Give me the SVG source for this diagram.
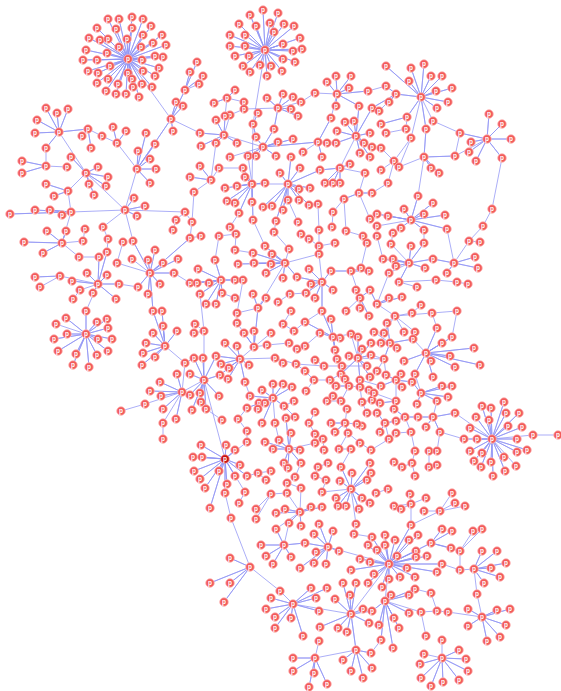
<svg xmlns="http://www.w3.org/2000/svg" width="561" height="691" viewBox="0 0 561 691">
<style>
.e{fill:none;stroke:#9094f4;stroke-width:0.9;stroke-opacity:0.85;stroke-linejoin:round}
#nodes circle{r:4.3px;fill:#f25a5a;stroke:#fdb8b8;stroke-width:0.8}
#nodes text{font-family:"Liberation Sans",Arial,sans-serif;font-size:6.5px;font-weight:bold;fill:#fff;text-anchor:middle}
#nodes .dk circle{fill:#c81010;stroke:#f4a0a0}
</style>
<rect width="561" height="691" fill="#fff"/>
<g id="connectors">
<path class="e" d="M128 59L108 19 128 59 119 19 128 59 132 17 128 59 143 19 128 59 97 28 128 59 116 29 128 59 132 28 128 59 151 26 128 59 89 38 128 59 100 40 128 59 108 39 128 59 127 39 128 59 143 35 128 59 162 35 128 59 86 50 128 59 107 53 128 59 119 47 128 59 141 47 128 59 153 43 128 59 166 45 128 59 83 60 128 59 97 60 128 59 142 60 128 59 155 56 128 59 163 57 128 59 88 71 128 59 98 73 128 59 110 66 128 59 128 73 128 59 143 71 128 59 159 68 128 59 97 83 128 59 108 79 128 59 118 84 128 59 132 79 128 59 142 84 128 59 155 76 128 59 106 91 128 59 116 94 128 59 126 94 128 59 133 87 128 59 139 97 128 59 152 87 128 59 171 119"/>
<path class="e" d="M265 50L263 10 265 50 250 15 265 50 278 13 265 50 239 24 265 50 256 26 265 50 270 23 265 50 274 32 265 50 284 24 265 50 294 26 265 50 230 35 265 50 245 35 265 50 300 38 265 50 283 44 265 50 230 46 265 50 245 46 265 50 293 51 265 50 302 49 265 50 235 56 265 50 249 56 265 50 283 59 265 50 295 62 265 50 243 66 265 50 260 65 265 50 271 66 265 50 250 72 265 50 267 76 265 50 282 71 265 50 253 124"/>
<path class="e" d="M171 119L185 90 171 119 176 102 171 119 183 106 171 119 173 131 171 119 137 169 171 119 200 133M185 90L197 62 185 90 190 72 185 90 203 76 185 90 199 84M59 132L46 108 59 132 57 113 59 132 68 109 59 132 37 120 59 132 35 133 59 132 88 129 59 132 46 148 59 132 86 173M46 148L46 166 22 161 46 166 22 173 46 166 67 167M88 129L82 136 88 129 91 148 88 129 102 136 117 143 113 127 117 143 126 131 117 143 137 169M137 169L138 151 137 169 146 133 137 169 155 144 137 169 150 159 137 169 156 169 137 169 150 183 137 169 125 210M86 173L71 157 86 173 98 167 86 173 108 177 86 173 106 186 86 173 89 184 86 173 94 195 86 173 68 191 46 184 68 191 54 196 68 191 71 212M86 173L125 210M125 210L134 198 125 210 145 206 125 210 137 216 125 210 71 212M125 210L185 212 176 220 173 230M185 212L192 222 190 238M125 210L133 241M125 210L103 227 108 239 107 252M71 212L35 210 71 212 50 210 71 212 10 214 71 212 62 215 71 212 62 243 47 231 62 243 66 231 62 243 24 242 62 243 43 253 62 243 83 241 85 229M62 243L79 257 99 257"/>
<path class="e" d="M98 284L99 257 98 284 107 252 98 284 87 273 98 284 72 281 98 284 107 275 98 284 119 284 98 284 80 290 73 299M98 284L93 293 98 284 116 299 98 284 60 276 35 277 60 276 40 287M98 284L86 311M86 334L86 311 86 334 97 322 86 334 107 319 86 334 108 328 86 334 67 334 86 334 54 339 86 334 98 339 86 334 112 339 86 334 58 351 86 334 76 354 86 334 97 355 86 334 108 351 86 334 73 365 86 334 89 367 86 334 66 318 86 334 56 324M150 273L155 250 150 273 148 260 150 273 163 263 150 273 174 273 150 273 160 284 150 273 138 287 150 273 148 294 150 273 133 241 150 273 117 263 123 242M150 273L178 259 150 273 153 311 150 273 190 238 150 273 132 259M165 346L153 311 165 346 162 311 165 346 163 326 165 346 177 331 165 346 153 333 165 346 146 343 165 346 143 353 165 346 155 357 165 346 142 365 165 346 185 363 182 392M182 392L177 374 182 392 160 382 182 392 150 391 182 392 161 396 182 392 145 404 121 411M182 392L163 409 182 392 176 419 182 392 163 423 163 439M182 392L204 380M119 284L138 287M174 273L190 283M185 363L194 358"/>
<path class="e" d="M253 124L258 113 253 124 256 137 253 124 252 184M227 98L235 90 227 98 214 103 227 98 244 102 244 109 230 115M227 98L225 116M278 108L267 98 278 108 283 94 278 108 293 97 278 108 291 109 278 108 301 102 315 93 337 94M278 108L298 116 278 108 274 129 278 108 244 109M224 135L216 120 224 135 225 116 224 135 200 133 224 135 216 143 224 135 201 146 224 135 237 143 224 135 263 147M224 135L230 115M263 147L256 137 263 147 278 142 263 147 293 139 263 147 318 142 263 147 248 156 263 147 256 156 263 147 276 156 263 147 274 129 263 147 230 157M318 142L327 143 318 142 336 143 318 142 331 118 318 142 322 157 318 142 303 152M337 94L327 82 337 94 336 76 337 94 351 76 337 94 349 88 337 94 368 91 337 94 336 106 337 94 359 106 337 94 331 118M356 136L345 122 356 136 354 121 356 136 337 131 356 136 370 133 356 136 364 143 356 136 372 147 356 136 360 153 356 136 370 157 356 136 359 106 356 136 372 108 356 136 336 143 356 136 340 168M340 168L350 164 340 168 325 183 340 168 333 183 340 168 340 183 340 168 320 170 340 168 365 173 359 193 372 193 359 193 344 199 359 193 370 219"/>
<path class="e" d="M288 184L280 173 288 184 300 168 288 184 291 157 288 184 299 189 288 184 310 188 288 184 288 200 288 184 299 200 288 184 309 205 288 184 283 210 288 184 272 206 288 184 263 207 288 184 276 221 288 184 320 170 288 184 252 184M288 200L298 222M252 184L243 168 252 184 245 177 252 184 265 183 252 184 237 186 252 184 225 188 252 184 252 202 252 184 235 203 252 184 227 201 252 184 239 213 252 184 253 220 252 184 248 156M211 180L200 166 211 180 219 168 243 168M211 180L190 177 211 180 194 192 192 222M211 180L216 143M230 227L239 213M318 204L309 205M333 212L344 199M332 227L333 212M319 230L318 204M346 231L344 199M276 221L274 232M253 220L265 246M368 91L386 86"/>
<path class="e" d="M421 97L386 66 421 97 411 68 421 97 424 64 421 97 431 76 421 97 442 76 421 97 409 81 421 97 436 91 421 97 452 88 421 97 448 102 421 97 437 108 421 97 433 121 460 133M421 97L396 94 421 97 407 117 421 97 426 129 421 97 411 138M396 94L386 86 396 94 389 102 396 94 372 108 396 94 379 111M407 117L381 124 407 117 406 129 386 133M424 157L426 129 424 157 431 168 424 157 439 173 424 157 455 156 424 157 399 167 411 138 394 161 381 148M394 161L381 170M394 161L388 183 372 193M487 139L460 133 487 139 471 142 487 139 469 152 487 139 476 161 487 139 489 114 487 139 502 124 487 139 511 139 487 139 502 158 487 139 455 156 460 133M411 220L418 196 411 220 404 209 411 220 424 214 411 220 433 203 411 220 445 215 411 220 388 216 411 220 377 214 411 220 401 228 411 220 424 230 411 220 447 229 411 220 377 226M418 196L424 157M502 158L492 209 483 226 469 241M424 230L424 243M447 229L454 263"/>
<path class="e" d="M221 280L215 260 221 280 198 269 221 280 190 283 221 280 197 283 221 280 209 283 221 280 200 294 221 280 222 293 221 280 206 304 221 280 216 304 221 280 235 280 221 280 243 280M190 238L201 236M219 236L236 234 235 250 253 253M235 298L222 293M215 260L219 236M200 294L204 331M285 263L265 246 285 263 253 253 285 263 272 254 285 263 289 249 274 232M285 263L254 263 285 263 271 264 285 263 266 273 285 263 283 278 285 263 297 277 285 263 238 264 285 263 319 254M285 263L258 308M322 282L309 269 322 282 311 284 322 282 306 293 322 282 315 298 322 282 333 290 322 282 331 271 322 282 297 277 322 282 322 311 322 282 319 254 319 246 319 230M319 246L309 239 301 234M319 246L335 243M351 271L331 271 351 271 361 268 367 243M351 271L369 271 351 271 360 298 356 290 360 298 370 290 360 298 360 308 360 298 369 316 360 298 346 311M346 231L363 236M258 308L253 294 258 308 266 298 258 308 254 347 258 308 237 313 237 323M237 313L243 280M278 302L290 294 306 293M291 311L283 324 294 331 305 322 322 311M271 333L254 347"/>
<path class="e" d="M254 347L244 333 254 347 254 331 254 347 267 345 289 343 297 349 305 346 320 333M254 347L237 323M254 347L240 359M240 359L225 343 240 359 237 346 240 359 221 364 240 359 229 368 240 359 228 379 240 359 220 375 240 359 249 365 240 359 245 382 240 359 216 356 240 359 275 358 296 364 324 366 342 366 367 366M283 363L275 358M315 360L324 366M305 371L296 364M204 380L194 358 204 380 203 358 204 380 216 356 204 380 190 374 204 380 220 375 204 380 190 395 204 380 200 393 204 380 219 396 204 380 192 410 204 380 201 402 204 380 206 409 204 380 204 331 195 324M204 331L194 333M204 380L225 459M273 398L262 390 273 398 273 384 273 398 283 384 273 398 292 387 273 398 259 403 273 398 265 403 273 398 284 406 273 398 250 396 273 398 247 408 273 398 258 409 273 398 262 423 273 398 275 423 279 440M245 382L250 396M333 337L320 333 333 337 340 338 333 337 331 319 333 337 322 311 333 337 335 351 333 337 337 359 333 337 305 322 333 337 351 334M358 358L349 356 358 358 362 349 358 358 358 337 358 358 371 343 358 358 371 355 358 358 367 366 358 358 360 380 358 358 370 377 358 358 341 374 358 358 351 334M358 358L384 359M360 380L381 386"/>
<path class="e" d="M289 449L279 440 289 449 273 449 289 449 300 450 289 449 291 433 289 449 265 442 289 449 284 463 289 449 288 468 289 449 301 463 289 449 286 418 289 449 315 443M295 477L287 483M301 463L295 477M225 459L202 457 225 459 193 457 225 459 201 445 225 459 226 445 225 459 235 450 225 459 240 465 225 459 194 471 225 459 219 471 225 459 200 479 225 459 235 476 225 459 247 476 225 459 227 484 225 459 205 488 225 459 225 493 225 459 210 508 225 459 245 492 239 503M225 459L247 442 247 431 238 419M225 493L231 518 250 567M247 476L258 473 271 471M258 473L266 480M314 380L330 380 341 374M306 391L314 380 305 371M349 386L336 386 349 386 360 387 369 390M349 386L345 379M349 386L341 401 327 401M341 401L333 396M341 401L347 409M362 402L372 400M362 402L367 413M362 402L360 387M294 401L284 406 295 417 286 418M315 412L309 423 315 434 323 439 315 443M222 420L206 409M238 419L247 408M345 423L331 423 345 423 357 424 362 426M345 423L348 433 345 423 335 432 345 423 347 409M323 439L324 450M339 449L351 449M339 449L348 433 360 443 371 450 389 439M351 449L341 467"/>
<path class="e" d="M409 263L383 259 409 263 393 259 409 263 396 266 409 263 391 244 393 233M409 263L411 246 409 263 433 259 409 263 425 268 409 263 399 282 409 263 424 243 409 263 389 273 377 304M377 236L383 259M454 263L433 259 454 263 475 257 454 263 478 268 454 263 447 273 454 263 469 241 480 242M399 282L436 280 457 282 468 284M417 287L399 282M377 304L370 290 377 304 389 298 377 304 402 297 377 304 395 316 412 313 421 305M395 316L432 313 457 311 452 337M432 313L437 328M395 316L387 323M395 316L384 332M395 316L404 332M395 316L415 332M426 353L437 328 426 353 442 343 426 353 452 337 426 353 474 348 426 353 450 356 426 353 455 367 426 353 480 365 426 353 431 361 426 353 404 361 426 353 433 377 426 353 415 374 426 353 413 339M390 343L387 323 390 343 381 343 390 343 397 348 390 343 384 359 390 343 413 339 390 343 374 332M384 359L377 371M384 359L386 375M384 359L371 355M396 380L381 386 396 380 386 375 396 380 401 374 396 380 412 382 396 380 402 387 396 380 396 401 380 403 396 401 394 409 396 401 374 393M421 393L412 382 421 393 442 386 421 393 452 386 421 393 448 397 421 393 437 401 421 393 417 404 421 393 415 374M405 417L394 409 405 417 418 417 405 417 396 421 405 417 411 432M433 417L418 417 433 417 455 413 433 417 426 427 433 417 440 432 433 417 437 401M455 413L492 439M440 432L464 439M385 423L377 413 385 423 396 421 385 423 380 432 385 423 389 439 396 433 411 432 415 451M429 451L437 451 440 432M394 462L402 467 412 463 415 451M412 463L415 476M429 467L437 465M429 467L429 451"/>
<path class="e" d="M492 439L482 406 492 439 491 408 492 439 504 402 492 439 476 417 492 439 489 420 492 439 506 413 492 439 519 413 492 439 470 428 492 439 508 426 492 439 522 427 492 439 464 439 492 439 477 439 492 439 517 439 492 439 533 435 558 435M492 439L470 451 492 439 482 453 492 439 504 457 492 439 517 452 492 439 527 450 492 439 474 461 492 439 481 467 492 439 491 462 492 439 493 476 492 439 505 471 492 439 516 466"/>
<path class="e" d="M389 564L385 535 389 564 395 540 389 564 409 540 389 564 418 535 389 564 385 545 389 564 377 550 389 564 397 556 389 564 416 557 389 564 427 556 389 564 416 551 389 564 407 568 389 564 415 577 389 564 400 577 389 564 389 579 389 564 382 587 389 564 374 574 389 564 442 564 389 564 431 543 389 564 411 525 389 564 437 572 389 564 372 537 389 564 370 562 389 564 360 559 389 564 368 545 389 564 368 583 389 564 351 570 389 564 385 601M411 525L411 504 410 494M411 504L394 506M411 504L401 509M411 504L426 498M411 525L440 511 452 493M440 511L455 503M440 511L465 506M440 511L424 511M376 493L388 489M431 543L442 529 431 543 452 531 431 543 451 548 431 543 460 551 473 531M460 551L482 529M460 551L460 570 442 564M460 570L474 569M474 569L482 551 474 569 497 551 474 569 506 563 474 569 491 568 474 569 500 577 474 569 484 583 474 569 477 594 482 617M482 617L468 609 482 617 497 610 482 617 510 609 482 617 506 625 482 617 500 637 482 617 487 641 482 617 468 626 482 617 448 612 437 611 421 612M431 593L437 611M415 589L431 593M385 601L391 595 385 601 409 595 385 601 415 589 385 601 409 613 385 601 394 618 385 601 399 628 385 601 372 611 385 601 379 625 385 601 381 640 385 601 393 648 385 601 421 612 426 636M442 640L442 658M371 653L381 640M442 658L459 650 442 658 466 659 442 658 468 671 442 658 459 680 442 658 443 682 442 658 431 686 442 658 421 678 442 658 420 664 442 658 424 654"/>
<path class="e" d="M351 489L341 467 351 489 352 473 351 489 340 481 351 489 367 480 351 489 371 473 351 489 370 463 351 489 362 498 351 489 370 503 351 489 359 509 351 489 346 506 351 489 338 506 351 489 336 498 351 489 322 492 326 480 315 476 318 467 328 463M351 489L356 524 354 534 372 537M300 512L285 509 300 512 276 513 300 512 289 523 300 512 301 526 300 512 311 507 300 512 322 507 300 512 287 493 271 494 256 509M271 494L256 519M300 512L301 488 287 483M300 512L276 529M284 545L261 545 284 545 266 556 284 545 273 564 284 545 291 557 284 545 305 543 284 545 276 529 284 545 289 523M328 547L319 524 328 547 333 531 328 547 314 534 328 547 339 551 328 547 316 552 328 547 314 563 328 547 326 564 328 547 300 568 328 547 305 543 328 547 389 564M250 567L230 558 250 567 210 583 250 567 230 583 250 567 224 602 250 567 280 591 293 604M293 604L271 598 293 604 266 609 293 604 275 617 293 604 275 628 293 604 291 618 293 604 303 636 293 604 311 588 293 604 327 588 293 604 316 598 293 604 319 611 293 604 351 614M351 614L343 583 351 614 356 583 351 614 335 599 351 614 350 595 351 614 363 609 351 614 372 611 351 614 369 623 351 614 338 628 351 614 347 632 351 614 320 627 351 614 356 650 351 614 389 564M356 650L371 653 356 650 372 668 356 650 363 678 356 650 351 671 356 650 343 660 356 650 315 658M315 658L293 658 315 658 293 671 315 658 314 673 315 658 327 684 315 658 309 687 315 658 319 641"/>
</g>
<g id="nodes">
<g id="n1"><circle cx="128" cy="59"/><text x="128" y="61">p</text></g>
<g id="n2"><circle cx="108" cy="19"/><text x="108" y="21">p</text></g>
<g id="n3"><circle cx="119" cy="19"/><text x="119" y="21">p</text></g>
<g id="n4"><circle cx="132" cy="17"/><text x="132" y="19">p</text></g>
<g id="n5"><circle cx="143" cy="19"/><text x="143" y="21">p</text></g>
<g id="n6"><circle cx="97" cy="28"/><text x="97" y="30">p</text></g>
<g id="n7"><circle cx="116" cy="29"/><text x="116" y="31">p</text></g>
<g id="n8"><circle cx="132" cy="28"/><text x="132" y="30">p</text></g>
<g id="n9"><circle cx="151" cy="26"/><text x="151" y="28">p</text></g>
<g id="n10"><circle cx="89" cy="38"/><text x="89" y="40">p</text></g>
<g id="n11"><circle cx="100" cy="40"/><text x="100" y="42">p</text></g>
<g id="n12"><circle cx="108" cy="39"/><text x="108" y="41">p</text></g>
<g id="n13"><circle cx="127" cy="39"/><text x="127" y="41">p</text></g>
<g id="n14"><circle cx="143" cy="35"/><text x="143" y="37">p</text></g>
<g id="n15"><circle cx="162" cy="35"/><text x="162" y="37">p</text></g>
<g id="n16"><circle cx="86" cy="50"/><text x="86" y="52">p</text></g>
<g id="n17"><circle cx="107" cy="53"/><text x="107" y="55">p</text></g>
<g id="n18"><circle cx="119" cy="47"/><text x="119" y="49">p</text></g>
<g id="n19"><circle cx="141" cy="47"/><text x="141" y="49">p</text></g>
<g id="n20"><circle cx="153" cy="43"/><text x="153" y="45">p</text></g>
<g id="n21"><circle cx="166" cy="45"/><text x="166" y="47">p</text></g>
<g id="n22"><circle cx="83" cy="60"/><text x="83" y="62">p</text></g>
<g id="n23"><circle cx="97" cy="60"/><text x="97" y="62">p</text></g>
<g id="n24"><circle cx="142" cy="60"/><text x="142" y="62">p</text></g>
<g id="n25"><circle cx="155" cy="56"/><text x="155" y="58">p</text></g>
<g id="n26"><circle cx="163" cy="57"/><text x="163" y="59">p</text></g>
<g id="n27"><circle cx="88" cy="71"/><text x="88" y="73">p</text></g>
<g id="n28"><circle cx="98" cy="73"/><text x="98" y="75">p</text></g>
<g id="n29"><circle cx="110" cy="66"/><text x="110" y="68">p</text></g>
<g id="n30"><circle cx="128" cy="73"/><text x="128" y="75">p</text></g>
<g id="n31"><circle cx="143" cy="71"/><text x="143" y="73">p</text></g>
<g id="n32"><circle cx="159" cy="68"/><text x="159" y="70">p</text></g>
<g id="n33"><circle cx="97" cy="83"/><text x="97" y="85">p</text></g>
<g id="n34"><circle cx="108" cy="79"/><text x="108" y="81">p</text></g>
<g id="n35"><circle cx="118" cy="84"/><text x="118" y="86">p</text></g>
<g id="n36"><circle cx="132" cy="79"/><text x="132" y="81">p</text></g>
<g id="n37"><circle cx="142" cy="84"/><text x="142" y="86">p</text></g>
<g id="n38"><circle cx="155" cy="76"/><text x="155" y="78">p</text></g>
<g id="n39"><circle cx="106" cy="91"/><text x="106" y="93">p</text></g>
<g id="n40"><circle cx="116" cy="94"/><text x="116" y="96">p</text></g>
<g id="n41"><circle cx="126" cy="94"/><text x="126" y="96">p</text></g>
<g id="n42"><circle cx="133" cy="87"/><text x="133" y="89">p</text></g>
<g id="n43"><circle cx="139" cy="97"/><text x="139" y="99">p</text></g>
<g id="n44"><circle cx="152" cy="87"/><text x="152" y="89">p</text></g>
<g id="n45"><circle cx="171" cy="119"/><text x="171" y="121">p</text></g>
<g id="n46"><circle cx="185" cy="90"/><text x="185" y="92">p</text></g>
<g id="n47"><circle cx="176" cy="102"/><text x="176" y="104">p</text></g>
<g id="n48"><circle cx="183" cy="106"/><text x="183" y="108">p</text></g>
<g id="n49"><circle cx="173" cy="131"/><text x="173" y="133">p</text></g>
<g id="n50"><circle cx="59" cy="132"/><text x="59" y="134">p</text></g>
<g id="n51"><circle cx="46" cy="108"/><text x="46" y="110">p</text></g>
<g id="n52"><circle cx="57" cy="113"/><text x="57" y="115">p</text></g>
<g id="n53"><circle cx="68" cy="109"/><text x="68" y="111">p</text></g>
<g id="n54"><circle cx="37" cy="120"/><text x="37" y="122">p</text></g>
<g id="n55"><circle cx="35" cy="133"/><text x="35" y="135">p</text></g>
<g id="n56"><circle cx="88" cy="129"/><text x="88" y="131">p</text></g>
<g id="n57"><circle cx="46" cy="148"/><text x="46" y="150">p</text></g>
<g id="n58"><circle cx="86" cy="173"/><text x="86" y="175">p</text></g>
<g id="n59"><circle cx="46" cy="166"/><text x="46" y="168">p</text></g>
<g id="n60"><circle cx="22" cy="161"/><text x="22" y="163">p</text></g>
<g id="n61"><circle cx="22" cy="173"/><text x="22" y="175">p</text></g>
<g id="n62"><circle cx="67" cy="167"/><text x="67" y="169">p</text></g>
<g id="n63"><circle cx="82" cy="136"/><text x="82" y="138">p</text></g>
<g id="n64"><circle cx="91" cy="148"/><text x="91" y="150">p</text></g>
<g id="n65"><circle cx="102" cy="136"/><text x="102" y="138">p</text></g>
<g id="n66"><circle cx="117" cy="143"/><text x="117" y="145">p</text></g>
<g id="n67"><circle cx="113" cy="127"/><text x="113" y="129">p</text></g>
<g id="n68"><circle cx="126" cy="131"/><text x="126" y="133">p</text></g>
<g id="n69"><circle cx="137" cy="169"/><text x="137" y="171">p</text></g>
<g id="n70"><circle cx="138" cy="151"/><text x="138" y="153">p</text></g>
<g id="n71"><circle cx="146" cy="133"/><text x="146" y="135">p</text></g>
<g id="n72"><circle cx="155" cy="144"/><text x="155" y="146">p</text></g>
<g id="n73"><circle cx="150" cy="159"/><text x="150" y="161">p</text></g>
<g id="n74"><circle cx="156" cy="169"/><text x="156" y="171">p</text></g>
<g id="n75"><circle cx="150" cy="183"/><text x="150" y="185">p</text></g>
<g id="n76"><circle cx="125" cy="210"/><text x="125" y="212">p</text></g>
<g id="n77"><circle cx="71" cy="157"/><text x="71" y="159">p</text></g>
<g id="n78"><circle cx="98" cy="167"/><text x="98" y="169">p</text></g>
<g id="n79"><circle cx="108" cy="177"/><text x="108" y="179">p</text></g>
<g id="n80"><circle cx="106" cy="186"/><text x="106" y="188">p</text></g>
<g id="n81"><circle cx="89" cy="184"/><text x="89" y="186">p</text></g>
<g id="n82"><circle cx="94" cy="195"/><text x="94" y="197">p</text></g>
<g id="n83"><circle cx="68" cy="191"/><text x="68" y="193">p</text></g>
<g id="n84"><circle cx="46" cy="184"/><text x="46" y="186">p</text></g>
<g id="n85"><circle cx="54" cy="196"/><text x="54" y="198">p</text></g>
<g id="n86"><circle cx="71" cy="212"/><text x="71" y="214">p</text></g>
<g id="n87"><circle cx="134" cy="198"/><text x="134" y="200">p</text></g>
<g id="n88"><circle cx="145" cy="206"/><text x="145" y="208">p</text></g>
<g id="n89"><circle cx="137" cy="216"/><text x="137" y="218">p</text></g>
<g id="n90"><circle cx="185" cy="212"/><text x="185" y="214">p</text></g>
<g id="n91"><circle cx="35" cy="210"/><text x="35" y="212">p</text></g>
<g id="n92"><circle cx="50" cy="210"/><text x="50" y="212">p</text></g>
<g id="n93"><circle cx="10" cy="214"/><text x="10" y="216">p</text></g>
<g id="n94"><circle cx="62" cy="215"/><text x="62" y="217">p</text></g>
<g id="n95"><circle cx="176" cy="220"/><text x="176" y="222">p</text></g>
<g id="n96"><circle cx="103" cy="227"/><text x="103" y="229">p</text></g>
<g id="n97"><circle cx="47" cy="231"/><text x="47" y="233">p</text></g>
<g id="n98"><circle cx="66" cy="231"/><text x="66" y="233">p</text></g>
<g id="n99"><circle cx="85" cy="229"/><text x="85" y="231">p</text></g>
<g id="n100"><circle cx="173" cy="230"/><text x="173" y="232">p</text></g>
<g id="n101"><circle cx="197" cy="62"/><text x="197" y="64">p</text></g>
<g id="n102"><circle cx="190" cy="72"/><text x="190" y="74">p</text></g>
<g id="n103"><circle cx="203" cy="76"/><text x="203" y="78">p</text></g>
<g id="n104"><circle cx="199" cy="84"/><text x="199" y="86">p</text></g>
<g id="n105"><circle cx="265" cy="50"/><text x="265" y="52">p</text></g>
<g id="n106"><circle cx="263" cy="10"/><text x="263" y="12">p</text></g>
<g id="n107"><circle cx="250" cy="15"/><text x="250" y="17">p</text></g>
<g id="n108"><circle cx="278" cy="13"/><text x="278" y="15">p</text></g>
<g id="n109"><circle cx="239" cy="24"/><text x="239" y="26">p</text></g>
<g id="n110"><circle cx="256" cy="26"/><text x="256" y="28">p</text></g>
<g id="n111"><circle cx="270" cy="23"/><text x="270" y="25">p</text></g>
<g id="n112"><circle cx="274" cy="32"/><text x="274" y="34">p</text></g>
<g id="n113"><circle cx="284" cy="24"/><text x="284" y="26">p</text></g>
<g id="n114"><circle cx="294" cy="26"/><text x="294" y="28">p</text></g>
<g id="n115"><circle cx="230" cy="35"/><text x="230" y="37">p</text></g>
<g id="n116"><circle cx="245" cy="35"/><text x="245" y="37">p</text></g>
<g id="n117"><circle cx="300" cy="38"/><text x="300" y="40">p</text></g>
<g id="n118"><circle cx="283" cy="44"/><text x="283" y="46">p</text></g>
<g id="n119"><circle cx="230" cy="46"/><text x="230" y="48">p</text></g>
<g id="n120"><circle cx="245" cy="46"/><text x="245" y="48">p</text></g>
<g id="n121"><circle cx="293" cy="51"/><text x="293" y="53">p</text></g>
<g id="n122"><circle cx="302" cy="49"/><text x="302" y="51">p</text></g>
<g id="n123"><circle cx="235" cy="56"/><text x="235" y="58">p</text></g>
<g id="n124"><circle cx="249" cy="56"/><text x="249" y="58">p</text></g>
<g id="n125"><circle cx="283" cy="59"/><text x="283" y="61">p</text></g>
<g id="n126"><circle cx="295" cy="62"/><text x="295" y="64">p</text></g>
<g id="n127"><circle cx="243" cy="66"/><text x="243" y="68">p</text></g>
<g id="n128"><circle cx="260" cy="65"/><text x="260" y="67">p</text></g>
<g id="n129"><circle cx="271" cy="66"/><text x="271" y="68">p</text></g>
<g id="n130"><circle cx="250" cy="72"/><text x="250" y="74">p</text></g>
<g id="n131"><circle cx="267" cy="76"/><text x="267" y="78">p</text></g>
<g id="n132"><circle cx="282" cy="71"/><text x="282" y="73">p</text></g>
<g id="n133"><circle cx="235" cy="90"/><text x="235" y="92">p</text></g>
<g id="n134"><circle cx="227" cy="98"/><text x="227" y="100">p</text></g>
<g id="n135"><circle cx="244" cy="102"/><text x="244" y="104">p</text></g>
<g id="n136"><circle cx="214" cy="103"/><text x="214" y="105">p</text></g>
<g id="n137"><circle cx="244" cy="109"/><text x="244" y="111">p</text></g>
<g id="n138"><circle cx="258" cy="113"/><text x="258" y="115">p</text></g>
<g id="n139"><circle cx="230" cy="115"/><text x="230" y="117">p</text></g>
<g id="n140"><circle cx="225" cy="116"/><text x="225" y="118">p</text></g>
<g id="n141"><circle cx="216" cy="120"/><text x="216" y="122">p</text></g>
<g id="n142"><circle cx="253" cy="124"/><text x="253" y="126">p</text></g>
<g id="n143"><circle cx="224" cy="135"/><text x="224" y="137">p</text></g>
<g id="n144"><circle cx="200" cy="133"/><text x="200" y="135">p</text></g>
<g id="n145"><circle cx="216" cy="143"/><text x="216" y="145">p</text></g>
<g id="n146"><circle cx="237" cy="143"/><text x="237" y="145">p</text></g>
<g id="n147"><circle cx="201" cy="146"/><text x="201" y="148">p</text></g>
<g id="n148"><circle cx="256" cy="137"/><text x="256" y="139">p</text></g>
<g id="n149"><circle cx="263" cy="147"/><text x="263" y="149">p</text></g>
<g id="n150"><circle cx="274" cy="129"/><text x="274" y="131">p</text></g>
<g id="n151"><circle cx="267" cy="98"/><text x="267" y="100">p</text></g>
<g id="n152"><circle cx="283" cy="94"/><text x="283" y="96">p</text></g>
<g id="n153"><circle cx="293" cy="97"/><text x="293" y="99">p</text></g>
<g id="n154"><circle cx="278" cy="108"/><text x="278" y="110">p</text></g>
<g id="n155"><circle cx="291" cy="109"/><text x="291" y="111">p</text></g>
<g id="n156"><circle cx="301" cy="102"/><text x="301" y="104">p</text></g>
<g id="n157"><circle cx="298" cy="116"/><text x="298" y="118">p</text></g>
<g id="n158"><circle cx="315" cy="93"/><text x="315" y="95">p</text></g>
<g id="n159"><circle cx="278" cy="142"/><text x="278" y="144">p</text></g>
<g id="n160"><circle cx="293" cy="139"/><text x="293" y="141">p</text></g>
<g id="n161"><circle cx="318" cy="142"/><text x="318" y="144">p</text></g>
<g id="n162"><circle cx="327" cy="143"/><text x="327" y="145">p</text></g>
<g id="n163"><circle cx="336" cy="143"/><text x="336" y="145">p</text></g>
<g id="n164"><circle cx="327" cy="82"/><text x="327" y="84">p</text></g>
<g id="n165"><circle cx="336" cy="76"/><text x="336" y="78">p</text></g>
<g id="n166"><circle cx="351" cy="76"/><text x="351" y="78">p</text></g>
<g id="n167"><circle cx="349" cy="88"/><text x="349" y="90">p</text></g>
<g id="n168"><circle cx="368" cy="91"/><text x="368" y="93">p</text></g>
<g id="n169"><circle cx="337" cy="94"/><text x="337" y="96">p</text></g>
<g id="n170"><circle cx="336" cy="106"/><text x="336" y="108">p</text></g>
<g id="n171"><circle cx="359" cy="106"/><text x="359" y="108">p</text></g>
<g id="n172"><circle cx="372" cy="108"/><text x="372" y="110">p</text></g>
<g id="n173"><circle cx="331" cy="118"/><text x="331" y="120">p</text></g>
<g id="n174"><circle cx="345" cy="122"/><text x="345" y="124">p</text></g>
<g id="n175"><circle cx="354" cy="121"/><text x="354" y="123">p</text></g>
<g id="n176"><circle cx="337" cy="131"/><text x="337" y="133">p</text></g>
<g id="n177"><circle cx="356" cy="136"/><text x="356" y="138">p</text></g>
<g id="n178"><circle cx="370" cy="133"/><text x="370" y="135">p</text></g>
<g id="n179"><circle cx="364" cy="143"/><text x="364" y="145">p</text></g>
<g id="n180"><circle cx="372" cy="147"/><text x="372" y="149">p</text></g>
<g id="n181"><circle cx="360" cy="153"/><text x="360" y="155">p</text></g>
<g id="n182"><circle cx="370" cy="157"/><text x="370" y="159">p</text></g>
<g id="n183"><circle cx="230" cy="157"/><text x="230" y="159">p</text></g>
<g id="n184"><circle cx="248" cy="156"/><text x="248" y="158">p</text></g>
<g id="n185"><circle cx="256" cy="156"/><text x="256" y="158">p</text></g>
<g id="n186"><circle cx="276" cy="156"/><text x="276" y="158">p</text></g>
<g id="n187"><circle cx="291" cy="157"/><text x="291" y="159">p</text></g>
<g id="n188"><circle cx="303" cy="152"/><text x="303" y="154">p</text></g>
<g id="n189"><circle cx="322" cy="157"/><text x="322" y="159">p</text></g>
<g id="n190"><circle cx="340" cy="168"/><text x="340" y="170">p</text></g>
<g id="n191"><circle cx="350" cy="164"/><text x="350" y="166">p</text></g>
<g id="n192"><circle cx="300" cy="168"/><text x="300" y="170">p</text></g>
<g id="n193"><circle cx="320" cy="170"/><text x="320" y="172">p</text></g>
<g id="n194"><circle cx="200" cy="166"/><text x="200" y="168">p</text></g>
<g id="n195"><circle cx="219" cy="168"/><text x="219" y="170">p</text></g>
<g id="n196"><circle cx="243" cy="168"/><text x="243" y="170">p</text></g>
<g id="n197"><circle cx="190" cy="177"/><text x="190" y="179">p</text></g>
<g id="n198"><circle cx="211" cy="180"/><text x="211" y="182">p</text></g>
<g id="n199"><circle cx="245" cy="177"/><text x="245" y="179">p</text></g>
<g id="n200"><circle cx="280" cy="173"/><text x="280" y="175">p</text></g>
<g id="n201"><circle cx="365" cy="173"/><text x="365" y="175">p</text></g>
<g id="n202"><circle cx="252" cy="184"/><text x="252" y="186">p</text></g>
<g id="n203"><circle cx="265" cy="183"/><text x="265" y="185">p</text></g>
<g id="n204"><circle cx="288" cy="184"/><text x="288" y="186">p</text></g>
<g id="n205"><circle cx="325" cy="183"/><text x="325" y="185">p</text></g>
<g id="n206"><circle cx="333" cy="183"/><text x="333" y="185">p</text></g>
<g id="n207"><circle cx="340" cy="183"/><text x="340" y="185">p</text></g>
<g id="n208"><circle cx="194" cy="192"/><text x="194" y="194">p</text></g>
<g id="n209"><circle cx="225" cy="188"/><text x="225" y="190">p</text></g>
<g id="n210"><circle cx="237" cy="186"/><text x="237" y="188">p</text></g>
<g id="n211"><circle cx="299" cy="189"/><text x="299" y="191">p</text></g>
<g id="n212"><circle cx="310" cy="188"/><text x="310" y="190">p</text></g>
<g id="n213"><circle cx="359" cy="193"/><text x="359" y="195">p</text></g>
<g id="n214"><circle cx="372" cy="193"/><text x="372" y="195">p</text></g>
<g id="n215"><circle cx="227" cy="201"/><text x="227" y="203">p</text></g>
<g id="n216"><circle cx="235" cy="203"/><text x="235" y="205">p</text></g>
<g id="n217"><circle cx="252" cy="202"/><text x="252" y="204">p</text></g>
<g id="n218"><circle cx="263" cy="207"/><text x="263" y="209">p</text></g>
<g id="n219"><circle cx="272" cy="206"/><text x="272" y="208">p</text></g>
<g id="n220"><circle cx="288" cy="200"/><text x="288" y="202">p</text></g>
<g id="n221"><circle cx="299" cy="200"/><text x="299" y="202">p</text></g>
<g id="n222"><circle cx="309" cy="205"/><text x="309" y="207">p</text></g>
<g id="n223"><circle cx="318" cy="204"/><text x="318" y="206">p</text></g>
<g id="n224"><circle cx="344" cy="199"/><text x="344" y="201">p</text></g>
<g id="n225"><circle cx="283" cy="210"/><text x="283" y="212">p</text></g>
<g id="n226"><circle cx="239" cy="213"/><text x="239" y="215">p</text></g>
<g id="n227"><circle cx="333" cy="212"/><text x="333" y="214">p</text></g>
<g id="n228"><circle cx="253" cy="220"/><text x="253" y="222">p</text></g>
<g id="n229"><circle cx="276" cy="221"/><text x="276" y="223">p</text></g>
<g id="n230"><circle cx="298" cy="222"/><text x="298" y="224">p</text></g>
<g id="n231"><circle cx="192" cy="222"/><text x="192" y="224">p</text></g>
<g id="n232"><circle cx="230" cy="227"/><text x="230" y="229">p</text></g>
<g id="n233"><circle cx="370" cy="219"/><text x="370" y="221">p</text></g>
<g id="n234"><circle cx="319" cy="230"/><text x="319" y="232">p</text></g>
<g id="n235"><circle cx="332" cy="227"/><text x="332" y="229">p</text></g>
<g id="n236"><circle cx="346" cy="231"/><text x="346" y="233">p</text></g>
<g id="n237"><circle cx="421" cy="97"/><text x="421" y="99">p</text></g>
<g id="n238"><circle cx="386" cy="66"/><text x="386" y="68">p</text></g>
<g id="n239"><circle cx="411" cy="68"/><text x="411" y="70">p</text></g>
<g id="n240"><circle cx="424" cy="64"/><text x="424" y="66">p</text></g>
<g id="n241"><circle cx="431" cy="76"/><text x="431" y="78">p</text></g>
<g id="n242"><circle cx="442" cy="76"/><text x="442" y="78">p</text></g>
<g id="n243"><circle cx="409" cy="81"/><text x="409" y="83">p</text></g>
<g id="n244"><circle cx="436" cy="91"/><text x="436" y="93">p</text></g>
<g id="n245"><circle cx="452" cy="88"/><text x="452" y="90">p</text></g>
<g id="n246"><circle cx="448" cy="102"/><text x="448" y="104">p</text></g>
<g id="n247"><circle cx="437" cy="108"/><text x="437" y="110">p</text></g>
<g id="n248"><circle cx="433" cy="121"/><text x="433" y="123">p</text></g>
<g id="n249"><circle cx="426" cy="129"/><text x="426" y="131">p</text></g>
<g id="n250"><circle cx="386" cy="86"/><text x="386" y="88">p</text></g>
<g id="n251"><circle cx="396" cy="94"/><text x="396" y="96">p</text></g>
<g id="n252"><circle cx="389" cy="102"/><text x="389" y="104">p</text></g>
<g id="n253"><circle cx="379" cy="111"/><text x="379" y="113">p</text></g>
<g id="n254"><circle cx="407" cy="117"/><text x="407" y="119">p</text></g>
<g id="n255"><circle cx="381" cy="124"/><text x="381" y="126">p</text></g>
<g id="n256"><circle cx="386" cy="133"/><text x="386" y="135">p</text></g>
<g id="n257"><circle cx="406" cy="129"/><text x="406" y="131">p</text></g>
<g id="n258"><circle cx="411" cy="138"/><text x="411" y="140">p</text></g>
<g id="n259"><circle cx="381" cy="148"/><text x="381" y="150">p</text></g>
<g id="n260"><circle cx="424" cy="157"/><text x="424" y="159">p</text></g>
<g id="n261"><circle cx="431" cy="168"/><text x="431" y="170">p</text></g>
<g id="n262"><circle cx="439" cy="173"/><text x="439" y="175">p</text></g>
<g id="n263"><circle cx="394" cy="161"/><text x="394" y="163">p</text></g>
<g id="n264"><circle cx="399" cy="167"/><text x="399" y="169">p</text></g>
<g id="n265"><circle cx="381" cy="170"/><text x="381" y="172">p</text></g>
<g id="n266"><circle cx="388" cy="183"/><text x="388" y="185">p</text></g>
<g id="n267"><circle cx="460" cy="133"/><text x="460" y="135">p</text></g>
<g id="n268"><circle cx="471" cy="142"/><text x="471" y="144">p</text></g>
<g id="n269"><circle cx="469" cy="152"/><text x="469" y="154">p</text></g>
<g id="n270"><circle cx="455" cy="156"/><text x="455" y="158">p</text></g>
<g id="n271"><circle cx="476" cy="161"/><text x="476" y="163">p</text></g>
<g id="n272"><circle cx="487" cy="139"/><text x="487" y="141">p</text></g>
<g id="n273"><circle cx="489" cy="114"/><text x="489" y="116">p</text></g>
<g id="n274"><circle cx="502" cy="124"/><text x="502" y="126">p</text></g>
<g id="n275"><circle cx="511" cy="139"/><text x="511" y="141">p</text></g>
<g id="n276"><circle cx="502" cy="158"/><text x="502" y="160">p</text></g>
<g id="n277"><circle cx="418" cy="196"/><text x="418" y="198">p</text></g>
<g id="n278"><circle cx="433" cy="203"/><text x="433" y="205">p</text></g>
<g id="n279"><circle cx="404" cy="209"/><text x="404" y="211">p</text></g>
<g id="n280"><circle cx="424" cy="214"/><text x="424" y="216">p</text></g>
<g id="n281"><circle cx="411" cy="220"/><text x="411" y="222">p</text></g>
<g id="n282"><circle cx="445" cy="215"/><text x="445" y="217">p</text></g>
<g id="n283"><circle cx="377" cy="214"/><text x="377" y="216">p</text></g>
<g id="n284"><circle cx="388" cy="216"/><text x="388" y="218">p</text></g>
<g id="n285"><circle cx="377" cy="226"/><text x="377" y="228">p</text></g>
<g id="n286"><circle cx="401" cy="228"/><text x="401" y="230">p</text></g>
<g id="n287"><circle cx="424" cy="230"/><text x="424" y="232">p</text></g>
<g id="n288"><circle cx="447" cy="229"/><text x="447" y="231">p</text></g>
<g id="n289"><circle cx="492" cy="209"/><text x="492" y="211">p</text></g>
<g id="n290"><circle cx="483" cy="226"/><text x="483" y="228">p</text></g>
<g id="n291"><circle cx="62" cy="243"/><text x="62" y="245">p</text></g>
<g id="n292"><circle cx="24" cy="242"/><text x="24" y="244">p</text></g>
<g id="n293"><circle cx="43" cy="253"/><text x="43" y="255">p</text></g>
<g id="n294"><circle cx="83" cy="241"/><text x="83" y="243">p</text></g>
<g id="n295"><circle cx="79" cy="257"/><text x="79" y="259">p</text></g>
<g id="n296"><circle cx="99" cy="257"/><text x="99" y="259">p</text></g>
<g id="n297"><circle cx="107" cy="252"/><text x="107" y="254">p</text></g>
<g id="n298"><circle cx="108" cy="239"/><text x="108" y="241">p</text></g>
<g id="n299"><circle cx="98" cy="284"/><text x="98" y="286">p</text></g>
<g id="n300"><circle cx="87" cy="273"/><text x="87" y="275">p</text></g>
<g id="n301"><circle cx="72" cy="281"/><text x="72" y="283">p</text></g>
<g id="n302"><circle cx="107" cy="275"/><text x="107" y="277">p</text></g>
<g id="n303"><circle cx="119" cy="284"/><text x="119" y="286">p</text></g>
<g id="n304"><circle cx="80" cy="290"/><text x="80" y="292">p</text></g>
<g id="n305"><circle cx="93" cy="293"/><text x="93" y="295">p</text></g>
<g id="n306"><circle cx="116" cy="299"/><text x="116" y="301">p</text></g>
<g id="n307"><circle cx="60" cy="276"/><text x="60" y="278">p</text></g>
<g id="n308"><circle cx="35" cy="277"/><text x="35" y="279">p</text></g>
<g id="n309"><circle cx="40" cy="287"/><text x="40" y="289">p</text></g>
<g id="n310"><circle cx="73" cy="299"/><text x="73" y="301">p</text></g>
<g id="n311"><circle cx="86" cy="311"/><text x="86" y="313">p</text></g>
<g id="n312"><circle cx="86" cy="334"/><text x="86" y="336">p</text></g>
<g id="n313"><circle cx="97" cy="322"/><text x="97" y="324">p</text></g>
<g id="n314"><circle cx="107" cy="319"/><text x="107" y="321">p</text></g>
<g id="n315"><circle cx="108" cy="328"/><text x="108" y="330">p</text></g>
<g id="n316"><circle cx="67" cy="334"/><text x="67" y="336">p</text></g>
<g id="n317"><circle cx="54" cy="339"/><text x="54" y="341">p</text></g>
<g id="n318"><circle cx="98" cy="339"/><text x="98" y="341">p</text></g>
<g id="n319"><circle cx="112" cy="339"/><text x="112" y="341">p</text></g>
<g id="n320"><circle cx="58" cy="351"/><text x="58" y="353">p</text></g>
<g id="n321"><circle cx="76" cy="354"/><text x="76" y="356">p</text></g>
<g id="n322"><circle cx="97" cy="355"/><text x="97" y="357">p</text></g>
<g id="n323"><circle cx="108" cy="351"/><text x="108" y="353">p</text></g>
<g id="n324"><circle cx="73" cy="365"/><text x="73" y="367">p</text></g>
<g id="n325"><circle cx="89" cy="367"/><text x="89" y="369">p</text></g>
<g id="n326"><circle cx="66" cy="318"/><text x="66" y="320">p</text></g>
<g id="n327"><circle cx="56" cy="324"/><text x="56" y="326">p</text></g>
<g id="n328"><circle cx="123" cy="242"/><text x="123" y="244">p</text></g>
<g id="n329"><circle cx="133" cy="241"/><text x="133" y="243">p</text></g>
<g id="n330"><circle cx="117" cy="263"/><text x="117" y="265">p</text></g>
<g id="n331"><circle cx="132" cy="259"/><text x="132" y="261">p</text></g>
<g id="n332"><circle cx="150" cy="273"/><text x="150" y="275">p</text></g>
<g id="n333"><circle cx="155" cy="250"/><text x="155" y="252">p</text></g>
<g id="n334"><circle cx="148" cy="260"/><text x="148" y="262">p</text></g>
<g id="n335"><circle cx="163" cy="263"/><text x="163" y="265">p</text></g>
<g id="n336"><circle cx="174" cy="273"/><text x="174" y="275">p</text></g>
<g id="n337"><circle cx="160" cy="284"/><text x="160" y="286">p</text></g>
<g id="n338"><circle cx="138" cy="287"/><text x="138" y="289">p</text></g>
<g id="n339"><circle cx="148" cy="294"/><text x="148" y="296">p</text></g>
<g id="n340"><circle cx="178" cy="259"/><text x="178" y="261">p</text></g>
<g id="n341"><circle cx="153" cy="311"/><text x="153" y="313">p</text></g>
<g id="n342"><circle cx="162" cy="311"/><text x="162" y="313">p</text></g>
<g id="n343"><circle cx="165" cy="346"/><text x="165" y="348">p</text></g>
<g id="n344"><circle cx="163" cy="326"/><text x="163" y="328">p</text></g>
<g id="n345"><circle cx="177" cy="331"/><text x="177" y="333">p</text></g>
<g id="n346"><circle cx="153" cy="333"/><text x="153" y="335">p</text></g>
<g id="n347"><circle cx="146" cy="343"/><text x="146" y="345">p</text></g>
<g id="n348"><circle cx="143" cy="353"/><text x="143" y="355">p</text></g>
<g id="n349"><circle cx="155" cy="357"/><text x="155" y="359">p</text></g>
<g id="n350"><circle cx="142" cy="365"/><text x="142" y="367">p</text></g>
<g id="n351"><circle cx="185" cy="363"/><text x="185" y="365">p</text></g>
<g id="n352"><circle cx="182" cy="392"/><text x="182" y="394">p</text></g>
<g id="n353"><circle cx="177" cy="374"/><text x="177" y="376">p</text></g>
<g id="n354"><circle cx="160" cy="382"/><text x="160" y="384">p</text></g>
<g id="n355"><circle cx="150" cy="391"/><text x="150" y="393">p</text></g>
<g id="n356"><circle cx="161" cy="396"/><text x="161" y="398">p</text></g>
<g id="n357"><circle cx="145" cy="404"/><text x="145" y="406">p</text></g>
<g id="n358"><circle cx="163" cy="409"/><text x="163" y="411">p</text></g>
<g id="n359"><circle cx="176" cy="419"/><text x="176" y="421">p</text></g>
<g id="n360"><circle cx="163" cy="423"/><text x="163" y="425">p</text></g>
<g id="n361"><circle cx="121" cy="411"/><text x="121" y="413">p</text></g>
<g id="n362"><circle cx="163" cy="439"/><text x="163" y="441">p</text></g>
<g id="n363"><circle cx="190" cy="238"/><text x="190" y="240">p</text></g>
<g id="n364"><circle cx="201" cy="236"/><text x="201" y="238">p</text></g>
<g id="n365"><circle cx="219" cy="236"/><text x="219" y="238">p</text></g>
<g id="n366"><circle cx="236" cy="234"/><text x="236" y="236">p</text></g>
<g id="n367"><circle cx="274" cy="232"/><text x="274" y="234">p</text></g>
<g id="n368"><circle cx="301" cy="234"/><text x="301" y="236">p</text></g>
<g id="n369"><circle cx="309" cy="239"/><text x="309" y="241">p</text></g>
<g id="n370"><circle cx="319" cy="246"/><text x="319" y="248">p</text></g>
<g id="n371"><circle cx="319" cy="254"/><text x="319" y="256">p</text></g>
<g id="n372"><circle cx="335" cy="243"/><text x="335" y="245">p</text></g>
<g id="n373"><circle cx="363" cy="236"/><text x="363" y="238">p</text></g>
<g id="n374"><circle cx="367" cy="243"/><text x="367" y="245">p</text></g>
<g id="n375"><circle cx="235" cy="250"/><text x="235" y="252">p</text></g>
<g id="n376"><circle cx="265" cy="246"/><text x="265" y="248">p</text></g>
<g id="n377"><circle cx="253" cy="253"/><text x="253" y="255">p</text></g>
<g id="n378"><circle cx="272" cy="254"/><text x="272" y="256">p</text></g>
<g id="n379"><circle cx="289" cy="249"/><text x="289" y="251">p</text></g>
<g id="n380"><circle cx="215" cy="260"/><text x="215" y="262">p</text></g>
<g id="n381"><circle cx="238" cy="264"/><text x="238" y="266">p</text></g>
<g id="n382"><circle cx="254" cy="263"/><text x="254" y="265">p</text></g>
<g id="n383"><circle cx="271" cy="264"/><text x="271" y="266">p</text></g>
<g id="n384"><circle cx="266" cy="273"/><text x="266" y="275">p</text></g>
<g id="n385"><circle cx="283" cy="278"/><text x="283" y="280">p</text></g>
<g id="n386"><circle cx="297" cy="277"/><text x="297" y="279">p</text></g>
<g id="n387"><circle cx="309" cy="269"/><text x="309" y="271">p</text></g>
<g id="n388"><circle cx="331" cy="271"/><text x="331" y="273">p</text></g>
<g id="n389"><circle cx="351" cy="271"/><text x="351" y="273">p</text></g>
<g id="n390"><circle cx="361" cy="268"/><text x="361" y="270">p</text></g>
<g id="n391"><circle cx="369" cy="271"/><text x="369" y="273">p</text></g>
<g id="n392"><circle cx="198" cy="269"/><text x="198" y="271">p</text></g>
<g id="n393"><circle cx="190" cy="283"/><text x="190" y="285">p</text></g>
<g id="n394"><circle cx="197" cy="283"/><text x="197" y="285">p</text></g>
<g id="n395"><circle cx="209" cy="283"/><text x="209" y="285">p</text></g>
<g id="n396"><circle cx="221" cy="280"/><text x="221" y="282">p</text></g>
<g id="n397"><circle cx="235" cy="280"/><text x="235" y="282">p</text></g>
<g id="n398"><circle cx="243" cy="280"/><text x="243" y="282">p</text></g>
<g id="n399"><circle cx="200" cy="294"/><text x="200" y="296">p</text></g>
<g id="n400"><circle cx="222" cy="293"/><text x="222" y="295">p</text></g>
<g id="n401"><circle cx="206" cy="304"/><text x="206" y="306">p</text></g>
<g id="n402"><circle cx="216" cy="304"/><text x="216" y="306">p</text></g>
<g id="n403"><circle cx="235" cy="298"/><text x="235" y="300">p</text></g>
<g id="n404"><circle cx="253" cy="294"/><text x="253" y="296">p</text></g>
<g id="n405"><circle cx="266" cy="298"/><text x="266" y="300">p</text></g>
<g id="n406"><circle cx="258" cy="308"/><text x="258" y="310">p</text></g>
<g id="n407"><circle cx="278" cy="302"/><text x="278" y="304">p</text></g>
<g id="n408"><circle cx="290" cy="294"/><text x="290" y="296">p</text></g>
<g id="n409"><circle cx="306" cy="293"/><text x="306" y="295">p</text></g>
<g id="n410"><circle cx="311" cy="284"/><text x="311" y="286">p</text></g>
<g id="n411"><circle cx="315" cy="298"/><text x="315" y="300">p</text></g>
<g id="n412"><circle cx="322" cy="282"/><text x="322" y="284">p</text></g>
<g id="n413"><circle cx="333" cy="290"/><text x="333" y="292">p</text></g>
<g id="n414"><circle cx="356" cy="290"/><text x="356" y="292">p</text></g>
<g id="n415"><circle cx="370" cy="290"/><text x="370" y="292">p</text></g>
<g id="n416"><circle cx="360" cy="298"/><text x="360" y="300">p</text></g>
<g id="n417"><circle cx="285" cy="263"/><text x="285" y="265">p</text></g>
<g id="n418"><circle cx="237" cy="313"/><text x="237" y="315">p</text></g>
<g id="n419"><circle cx="291" cy="311"/><text x="291" y="313">p</text></g>
<g id="n420"><circle cx="322" cy="311"/><text x="322" y="313">p</text></g>
<g id="n421"><circle cx="346" cy="311"/><text x="346" y="313">p</text></g>
<g id="n422"><circle cx="360" cy="308"/><text x="360" y="310">p</text></g>
<g id="n423"><circle cx="369" cy="316"/><text x="369" y="318">p</text></g>
<g id="n424"><circle cx="305" cy="322"/><text x="305" y="324">p</text></g>
<g id="n425"><circle cx="331" cy="319"/><text x="331" y="321">p</text></g>
<g id="n426"><circle cx="237" cy="323"/><text x="237" y="325">p</text></g>
<g id="n427"><circle cx="283" cy="324"/><text x="283" y="326">p</text></g>
<g id="n428"><circle cx="271" cy="333"/><text x="271" y="335">p</text></g>
<g id="n429"><circle cx="294" cy="331"/><text x="294" y="333">p</text></g>
<g id="n430"><circle cx="320" cy="333"/><text x="320" y="335">p</text></g>
<g id="n431"><circle cx="340" cy="338"/><text x="340" y="340">p</text></g>
<g id="n432"><circle cx="351" cy="334"/><text x="351" y="336">p</text></g>
<g id="n433"><circle cx="358" cy="337"/><text x="358" y="339">p</text></g>
<g id="n434"><circle cx="371" cy="343"/><text x="371" y="345">p</text></g>
<g id="n435"><circle cx="195" cy="324"/><text x="195" y="326">p</text></g>
<g id="n436"><circle cx="194" cy="333"/><text x="194" y="335">p</text></g>
<g id="n437"><circle cx="204" cy="331"/><text x="204" y="333">p</text></g>
<g id="n438"><circle cx="244" cy="333"/><text x="244" y="335">p</text></g>
<g id="n439"><circle cx="254" cy="331"/><text x="254" y="333">p</text></g>
<g id="n440"><circle cx="225" cy="343"/><text x="225" y="345">p</text></g>
<g id="n441"><circle cx="237" cy="346"/><text x="237" y="348">p</text></g>
<g id="n442"><circle cx="254" cy="347"/><text x="254" y="349">p</text></g>
<g id="n443"><circle cx="267" cy="345"/><text x="267" y="347">p</text></g>
<g id="n444"><circle cx="289" cy="343"/><text x="289" y="345">p</text></g>
<g id="n445"><circle cx="297" cy="349"/><text x="297" y="351">p</text></g>
<g id="n446"><circle cx="305" cy="346"/><text x="305" y="348">p</text></g>
<g id="n447"><circle cx="333" cy="337"/><text x="333" y="339">p</text></g>
<g id="n448"><circle cx="335" cy="350"/><text x="335" y="352">p</text></g>
<g id="n449"><circle cx="337" cy="359"/><text x="337" y="361">p</text></g>
<g id="n450"><circle cx="349" cy="356"/><text x="349" y="358">p</text></g>
<g id="n451"><circle cx="362" cy="349"/><text x="362" y="351">p</text></g>
<g id="n452"><circle cx="371" cy="355"/><text x="371" y="357">p</text></g>
<g id="n453"><circle cx="358" cy="358"/><text x="358" y="360">p</text></g>
<g id="n454"><circle cx="240" cy="359"/><text x="240" y="361">p</text></g>
<g id="n455"><circle cx="275" cy="358"/><text x="275" y="360">p</text></g>
<g id="n456"><circle cx="283" cy="363"/><text x="283" y="365">p</text></g>
<g id="n457"><circle cx="296" cy="364"/><text x="296" y="366">p</text></g>
<g id="n458"><circle cx="305" cy="371"/><text x="305" y="373">p</text></g>
<g id="n459"><circle cx="315" cy="360"/><text x="315" y="362">p</text></g>
<g id="n460"><circle cx="324" cy="366"/><text x="324" y="368">p</text></g>
<g id="n461"><circle cx="342" cy="366"/><text x="342" y="368">p</text></g>
<g id="n462"><circle cx="367" cy="366"/><text x="367" y="368">p</text></g>
<g id="n463"><circle cx="194" cy="358"/><text x="194" y="360">p</text></g>
<g id="n464"><circle cx="203" cy="358"/><text x="203" y="360">p</text></g>
<g id="n465"><circle cx="216" cy="356"/><text x="216" y="358">p</text></g>
<g id="n466"><circle cx="221" cy="364"/><text x="221" y="366">p</text></g>
<g id="n467"><circle cx="249" cy="365"/><text x="249" y="367">p</text></g>
<g id="n468"><circle cx="229" cy="368"/><text x="229" y="370">p</text></g>
<g id="n469"><circle cx="228" cy="379"/><text x="228" y="381">p</text></g>
<g id="n470"><circle cx="220" cy="375"/><text x="220" y="377">p</text></g>
<g id="n471"><circle cx="190" cy="374"/><text x="190" y="376">p</text></g>
<g id="n472"><circle cx="245" cy="382"/><text x="245" y="384">p</text></g>
<g id="n473"><circle cx="204" cy="380"/><text x="204" y="382">p</text></g>
<g id="n474"><circle cx="330" cy="380"/><text x="330" y="382">p</text></g>
<g id="n475"><circle cx="341" cy="374"/><text x="341" y="376">p</text></g>
<g id="n476"><circle cx="345" cy="379"/><text x="345" y="381">p</text></g>
<g id="n477"><circle cx="360" cy="380"/><text x="360" y="382">p</text></g>
<g id="n478"><circle cx="370" cy="377"/><text x="370" y="379">p</text></g>
<g id="n479"><circle cx="314" cy="380"/><text x="314" y="382">p</text></g>
<g id="n480"><circle cx="262" cy="390"/><text x="262" y="392">p</text></g>
<g id="n481"><circle cx="273" cy="384"/><text x="273" y="386">p</text></g>
<g id="n482"><circle cx="283" cy="384"/><text x="283" y="386">p</text></g>
<g id="n483"><circle cx="292" cy="387"/><text x="292" y="389">p</text></g>
<g id="n484"><circle cx="306" cy="391"/><text x="306" y="393">p</text></g>
<g id="n485"><circle cx="336" cy="386"/><text x="336" y="388">p</text></g>
<g id="n486"><circle cx="349" cy="386"/><text x="349" y="388">p</text></g>
<g id="n487"><circle cx="360" cy="387"/><text x="360" y="389">p</text></g>
<g id="n488"><circle cx="369" cy="390"/><text x="369" y="392">p</text></g>
<g id="n489"><circle cx="190" cy="395"/><text x="190" y="397">p</text></g>
<g id="n490"><circle cx="200" cy="393"/><text x="200" y="395">p</text></g>
<g id="n491"><circle cx="219" cy="396"/><text x="219" y="398">p</text></g>
<g id="n492"><circle cx="250" cy="396"/><text x="250" y="398">p</text></g>
<g id="n493"><circle cx="273" cy="398"/><text x="273" y="400">p</text></g>
<g id="n494"><circle cx="259" cy="403"/><text x="259" y="405">p</text></g>
<g id="n495"><circle cx="265" cy="403"/><text x="265" y="405">p</text></g>
<g id="n496"><circle cx="284" cy="406"/><text x="284" y="408">p</text></g>
<g id="n497"><circle cx="294" cy="401"/><text x="294" y="403">p</text></g>
<g id="n498"><circle cx="327" cy="401"/><text x="327" y="403">p</text></g>
<g id="n499"><circle cx="333" cy="396"/><text x="333" y="398">p</text></g>
<g id="n500"><circle cx="341" cy="401"/><text x="341" y="403">p</text></g>
<g id="n501"><circle cx="362" cy="402"/><text x="362" y="404">p</text></g>
<g id="n502"><circle cx="372" cy="400"/><text x="372" y="402">p</text></g>
<g id="n503"><circle cx="192" cy="410"/><text x="192" y="412">p</text></g>
<g id="n504"><circle cx="201" cy="402"/><text x="201" y="404">p</text></g>
<g id="n505"><circle cx="206" cy="409"/><text x="206" y="411">p</text></g>
<g id="n506"><circle cx="247" cy="408"/><text x="247" y="410">p</text></g>
<g id="n507"><circle cx="258" cy="409"/><text x="258" y="411">p</text></g>
<g id="n508"><circle cx="315" cy="412"/><text x="315" y="414">p</text></g>
<g id="n509"><circle cx="347" cy="409"/><text x="347" y="411">p</text></g>
<g id="n510"><circle cx="367" cy="413"/><text x="367" y="415">p</text></g>
<g id="n511"><circle cx="222" cy="420"/><text x="222" y="422">p</text></g>
<g id="n512"><circle cx="238" cy="419"/><text x="238" y="421">p</text></g>
<g id="n513"><circle cx="262" cy="423"/><text x="262" y="425">p</text></g>
<g id="n514"><circle cx="275" cy="423"/><text x="275" y="425">p</text></g>
<g id="n515"><circle cx="286" cy="418"/><text x="286" y="420">p</text></g>
<g id="n516"><circle cx="295" cy="417"/><text x="295" y="419">p</text></g>
<g id="n517"><circle cx="309" cy="423"/><text x="309" y="425">p</text></g>
<g id="n518"><circle cx="331" cy="423"/><text x="331" y="425">p</text></g>
<g id="n519"><circle cx="345" cy="423"/><text x="345" y="425">p</text></g>
<g id="n520"><circle cx="362" cy="426"/><text x="362" y="428">p</text></g>
<g id="n521"><circle cx="357" cy="424"/><text x="357" y="426">p</text></g>
<g id="n522"><circle cx="247" cy="431"/><text x="247" y="433">p</text></g>
<g id="n523"><circle cx="291" cy="433"/><text x="291" y="435">p</text></g>
<g id="n524"><circle cx="315" cy="434"/><text x="315" y="436">p</text></g>
<g id="n525"><circle cx="323" cy="439"/><text x="323" y="441">p</text></g>
<g id="n526"><circle cx="335" cy="432"/><text x="335" y="434">p</text></g>
<g id="n527"><circle cx="348" cy="433"/><text x="348" y="435">p</text></g>
<g id="n528"><circle cx="247" cy="442"/><text x="247" y="444">p</text></g>
<g id="n529"><circle cx="265" cy="442"/><text x="265" y="444">p</text></g>
<g id="n530"><circle cx="279" cy="440"/><text x="279" y="442">p</text></g>
<g id="n531"><circle cx="315" cy="443"/><text x="315" y="445">p</text></g>
<g id="n532"><circle cx="360" cy="443"/><text x="360" y="445">p</text></g>
<g id="n533"><circle cx="201" cy="445"/><text x="201" y="447">p</text></g>
<g id="n534"><circle cx="226" cy="445"/><text x="226" y="447">p</text></g>
<g id="n535"><circle cx="235" cy="450"/><text x="235" y="452">p</text></g>
<g id="n536"><circle cx="273" cy="449"/><text x="273" y="451">p</text></g>
<g id="n537"><circle cx="289" cy="449"/><text x="289" y="451">p</text></g>
<g id="n538"><circle cx="300" cy="450"/><text x="300" y="452">p</text></g>
<g id="n539"><circle cx="324" cy="450"/><text x="324" y="452">p</text></g>
<g id="n540"><circle cx="339" cy="449"/><text x="339" y="451">p</text></g>
<g id="n541"><circle cx="351" cy="449"/><text x="351" y="451">p</text></g>
<g id="n542"><circle cx="371" cy="450"/><text x="371" y="452">p</text></g>
<g id="n543"><circle cx="193" cy="457"/><text x="193" y="459">p</text></g>
<g id="n544"><circle cx="202" cy="457"/><text x="202" y="459">p</text></g>
<g id="n545" class="dk"><circle cx="225" cy="459"/><text x="225" y="461">p</text></g>
<g id="n546"><circle cx="377" cy="236"/><text x="377" y="238">p</text></g>
<g id="n547"><circle cx="393" cy="233"/><text x="393" y="235">p</text></g>
<g id="n548"><circle cx="391" cy="244"/><text x="391" y="246">p</text></g>
<g id="n549"><circle cx="411" cy="246"/><text x="411" y="248">p</text></g>
<g id="n550"><circle cx="424" cy="243"/><text x="424" y="245">p</text></g>
<g id="n551"><circle cx="469" cy="241"/><text x="469" y="243">p</text></g>
<g id="n552"><circle cx="480" cy="242"/><text x="480" y="244">p</text></g>
<g id="n553"><circle cx="383" cy="259"/><text x="383" y="261">p</text></g>
<g id="n554"><circle cx="393" cy="259"/><text x="393" y="261">p</text></g>
<g id="n555"><circle cx="396" cy="266"/><text x="396" y="268">p</text></g>
<g id="n556"><circle cx="409" cy="263"/><text x="409" y="265">p</text></g>
<g id="n557"><circle cx="433" cy="259"/><text x="433" y="261">p</text></g>
<g id="n558"><circle cx="425" cy="268"/><text x="425" y="270">p</text></g>
<g id="n559"><circle cx="454" cy="263"/><text x="454" y="265">p</text></g>
<g id="n560"><circle cx="475" cy="257"/><text x="475" y="259">p</text></g>
<g id="n561"><circle cx="478" cy="268"/><text x="478" y="270">p</text></g>
<g id="n562"><circle cx="447" cy="273"/><text x="447" y="275">p</text></g>
<g id="n563"><circle cx="389" cy="273"/><text x="389" y="275">p</text></g>
<g id="n564"><circle cx="399" cy="282"/><text x="399" y="284">p</text></g>
<g id="n565"><circle cx="417" cy="287"/><text x="417" y="289">p</text></g>
<g id="n566"><circle cx="436" cy="280"/><text x="436" y="282">p</text></g>
<g id="n567"><circle cx="457" cy="282"/><text x="457" y="284">p</text></g>
<g id="n568"><circle cx="468" cy="284"/><text x="468" y="286">p</text></g>
<g id="n569"><circle cx="377" cy="304"/><text x="377" y="306">p</text></g>
<g id="n570"><circle cx="389" cy="298"/><text x="389" y="300">p</text></g>
<g id="n571"><circle cx="402" cy="297"/><text x="402" y="299">p</text></g>
<g id="n572"><circle cx="421" cy="305"/><text x="421" y="307">p</text></g>
<g id="n573"><circle cx="395" cy="316"/><text x="395" y="318">p</text></g>
<g id="n574"><circle cx="412" cy="313"/><text x="412" y="315">p</text></g>
<g id="n575"><circle cx="432" cy="313"/><text x="432" y="315">p</text></g>
<g id="n576"><circle cx="457" cy="311"/><text x="457" y="313">p</text></g>
<g id="n577"><circle cx="437" cy="328"/><text x="437" y="330">p</text></g>
<g id="n578"><circle cx="387" cy="323"/><text x="387" y="325">p</text></g>
<g id="n579"><circle cx="384" cy="333"/><text x="384" y="335">p</text></g>
<g id="n580"><circle cx="374" cy="332"/><text x="374" y="334">p</text></g>
<g id="n581"><circle cx="404" cy="332"/><text x="404" y="334">p</text></g>
<g id="n582"><circle cx="415" cy="332"/><text x="415" y="334">p</text></g>
<g id="n583"><circle cx="413" cy="339"/><text x="413" y="341">p</text></g>
<g id="n584"><circle cx="390" cy="343"/><text x="390" y="345">p</text></g>
<g id="n585"><circle cx="397" cy="348"/><text x="397" y="350">p</text></g>
<g id="n586"><circle cx="381" cy="343"/><text x="381" y="345">p</text></g>
<g id="n587"><circle cx="442" cy="343"/><text x="442" y="345">p</text></g>
<g id="n588"><circle cx="452" cy="337"/><text x="452" y="339">p</text></g>
<g id="n589"><circle cx="474" cy="348"/><text x="474" y="350">p</text></g>
<g id="n590"><circle cx="426" cy="353"/><text x="426" y="355">p</text></g>
<g id="n591"><circle cx="450" cy="356"/><text x="450" y="358">p</text></g>
<g id="n592"><circle cx="404" cy="361"/><text x="404" y="363">p</text></g>
<g id="n593"><circle cx="384" cy="359"/><text x="384" y="361">p</text></g>
<g id="n594"><circle cx="431" cy="361"/><text x="431" y="363">p</text></g>
<g id="n595"><circle cx="455" cy="367"/><text x="455" y="369">p</text></g>
<g id="n596"><circle cx="480" cy="365"/><text x="480" y="367">p</text></g>
<g id="n597"><circle cx="377" cy="371"/><text x="377" y="373">p</text></g>
<g id="n598"><circle cx="386" cy="375"/><text x="386" y="377">p</text></g>
<g id="n599"><circle cx="401" cy="374"/><text x="401" y="376">p</text></g>
<g id="n600"><circle cx="415" cy="374"/><text x="415" y="376">p</text></g>
<g id="n601"><circle cx="433" cy="377"/><text x="433" y="379">p</text></g>
<g id="n602"><circle cx="381" cy="386"/><text x="381" y="388">p</text></g>
<g id="n603"><circle cx="396" cy="380"/><text x="396" y="382">p</text></g>
<g id="n604"><circle cx="412" cy="382"/><text x="412" y="384">p</text></g>
<g id="n605"><circle cx="402" cy="387"/><text x="402" y="389">p</text></g>
<g id="n606"><circle cx="442" cy="386"/><text x="442" y="388">p</text></g>
<g id="n607"><circle cx="452" cy="386"/><text x="452" y="388">p</text></g>
<g id="n608"><circle cx="421" cy="393"/><text x="421" y="395">p</text></g>
<g id="n609"><circle cx="448" cy="397"/><text x="448" y="399">p</text></g>
<g id="n610"><circle cx="374" cy="393"/><text x="374" y="395">p</text></g>
<g id="n611"><circle cx="396" cy="401"/><text x="396" y="403">p</text></g>
<g id="n612"><circle cx="380" cy="403"/><text x="380" y="405">p</text></g>
<g id="n613"><circle cx="417" cy="404"/><text x="417" y="406">p</text></g>
<g id="n614"><circle cx="437" cy="401"/><text x="437" y="403">p</text></g>
<g id="n615"><circle cx="377" cy="413"/><text x="377" y="415">p</text></g>
<g id="n616"><circle cx="394" cy="409"/><text x="394" y="411">p</text></g>
<g id="n617"><circle cx="405" cy="417"/><text x="405" y="419">p</text></g>
<g id="n618"><circle cx="418" cy="417"/><text x="418" y="419">p</text></g>
<g id="n619"><circle cx="433" cy="417"/><text x="433" y="419">p</text></g>
<g id="n620"><circle cx="455" cy="413"/><text x="455" y="415">p</text></g>
<g id="n621"><circle cx="385" cy="423"/><text x="385" y="425">p</text></g>
<g id="n622"><circle cx="396" cy="421"/><text x="396" y="423">p</text></g>
<g id="n623"><circle cx="380" cy="432"/><text x="380" y="434">p</text></g>
<g id="n624"><circle cx="396" cy="433"/><text x="396" y="435">p</text></g>
<g id="n625"><circle cx="411" cy="432"/><text x="411" y="434">p</text></g>
<g id="n626"><circle cx="426" cy="427"/><text x="426" y="429">p</text></g>
<g id="n627"><circle cx="440" cy="432"/><text x="440" y="434">p</text></g>
<g id="n628"><circle cx="389" cy="439"/><text x="389" y="441">p</text></g>
<g id="n629"><circle cx="415" cy="451"/><text x="415" y="453">p</text></g>
<g id="n630"><circle cx="429" cy="451"/><text x="429" y="453">p</text></g>
<g id="n631"><circle cx="437" cy="451"/><text x="437" y="453">p</text></g>
<g id="n632"><circle cx="492" cy="439"/><text x="492" y="441">p</text></g>
<g id="n633"><circle cx="482" cy="406"/><text x="482" y="408">p</text></g>
<g id="n634"><circle cx="491" cy="408"/><text x="491" y="410">p</text></g>
<g id="n635"><circle cx="504" cy="402"/><text x="504" y="404">p</text></g>
<g id="n636"><circle cx="476" cy="417"/><text x="476" y="419">p</text></g>
<g id="n637"><circle cx="489" cy="420"/><text x="489" y="422">p</text></g>
<g id="n638"><circle cx="506" cy="413"/><text x="506" y="415">p</text></g>
<g id="n639"><circle cx="519" cy="413"/><text x="519" y="415">p</text></g>
<g id="n640"><circle cx="470" cy="428"/><text x="470" y="430">p</text></g>
<g id="n641"><circle cx="508" cy="426"/><text x="508" y="428">p</text></g>
<g id="n642"><circle cx="522" cy="427"/><text x="522" y="429">p</text></g>
<g id="n643"><circle cx="464" cy="439"/><text x="464" y="441">p</text></g>
<g id="n644"><circle cx="477" cy="439"/><text x="477" y="441">p</text></g>
<g id="n645"><circle cx="517" cy="439"/><text x="517" y="441">p</text></g>
<g id="n646"><circle cx="533" cy="435"/><text x="533" y="437">p</text></g>
<g id="n647"><circle cx="558" cy="435"/><text x="558" y="437">p</text></g>
<g id="n648"><circle cx="470" cy="451"/><text x="470" y="453">p</text></g>
<g id="n649"><circle cx="482" cy="453"/><text x="482" y="455">p</text></g>
<g id="n650"><circle cx="504" cy="457"/><text x="504" y="459">p</text></g>
<g id="n651"><circle cx="517" cy="452"/><text x="517" y="454">p</text></g>
<g id="n652"><circle cx="527" cy="450"/><text x="527" y="452">p</text></g>
<g id="n653"><circle cx="474" cy="461"/><text x="474" y="463">p</text></g>
<g id="n654"><circle cx="481" cy="467"/><text x="481" y="469">p</text></g>
<g id="n655"><circle cx="491" cy="462"/><text x="491" y="464">p</text></g>
<g id="n656"><circle cx="493" cy="476"/><text x="493" y="478">p</text></g>
<g id="n657"><circle cx="505" cy="471"/><text x="505" y="473">p</text></g>
<g id="n658"><circle cx="516" cy="466"/><text x="516" y="468">p</text></g>
<g id="n659"><circle cx="240" cy="465"/><text x="240" y="467">p</text></g>
<g id="n660"><circle cx="194" cy="471"/><text x="194" y="473">p</text></g>
<g id="n661"><circle cx="219" cy="471"/><text x="219" y="473">p</text></g>
<g id="n662"><circle cx="200" cy="479"/><text x="200" y="481">p</text></g>
<g id="n663"><circle cx="235" cy="476"/><text x="235" y="478">p</text></g>
<g id="n664"><circle cx="247" cy="476"/><text x="247" y="478">p</text></g>
<g id="n665"><circle cx="258" cy="473"/><text x="258" y="475">p</text></g>
<g id="n666"><circle cx="271" cy="471"/><text x="271" y="473">p</text></g>
<g id="n667"><circle cx="266" cy="480"/><text x="266" y="482">p</text></g>
<g id="n668"><circle cx="227" cy="484"/><text x="227" y="486">p</text></g>
<g id="n669"><circle cx="205" cy="488"/><text x="205" y="490">p</text></g>
<g id="n670"><circle cx="225" cy="493"/><text x="225" y="495">p</text></g>
<g id="n671"><circle cx="245" cy="492"/><text x="245" y="494">p</text></g>
<g id="n672"><circle cx="239" cy="503"/><text x="239" y="505">p</text></g>
<g id="n673"><circle cx="210" cy="508"/><text x="210" y="510">p</text></g>
<g id="n674"><circle cx="231" cy="518"/><text x="231" y="520">p</text></g>
<g id="n675"><circle cx="256" cy="509"/><text x="256" y="511">p</text></g>
<g id="n676"><circle cx="256" cy="519"/><text x="256" y="521">p</text></g>
<g id="n677"><circle cx="284" cy="463"/><text x="284" y="465">p</text></g>
<g id="n678"><circle cx="288" cy="468"/><text x="288" y="470">p</text></g>
<g id="n679"><circle cx="301" cy="463"/><text x="301" y="465">p</text></g>
<g id="n680"><circle cx="295" cy="477"/><text x="295" y="479">p</text></g>
<g id="n681"><circle cx="287" cy="483"/><text x="287" y="485">p</text></g>
<g id="n682"><circle cx="271" cy="494"/><text x="271" y="496">p</text></g>
<g id="n683"><circle cx="287" cy="493"/><text x="287" y="495">p</text></g>
<g id="n684"><circle cx="301" cy="488"/><text x="301" y="490">p</text></g>
<g id="n685"><circle cx="318" cy="467"/><text x="318" y="469">p</text></g>
<g id="n686"><circle cx="328" cy="463"/><text x="328" y="465">p</text></g>
<g id="n687"><circle cx="315" cy="476"/><text x="315" y="478">p</text></g>
<g id="n688"><circle cx="326" cy="480"/><text x="326" y="482">p</text></g>
<g id="n689"><circle cx="322" cy="492"/><text x="322" y="494">p</text></g>
<g id="n690"><circle cx="341" cy="467"/><text x="341" y="469">p</text></g>
<g id="n691"><circle cx="340" cy="481"/><text x="340" y="483">p</text></g>
<g id="n692"><circle cx="352" cy="473"/><text x="352" y="475">p</text></g>
<g id="n693"><circle cx="351" cy="489"/><text x="351" y="491">p</text></g>
<g id="n694"><circle cx="370" cy="463"/><text x="370" y="465">p</text></g>
<g id="n695"><circle cx="371" cy="473"/><text x="371" y="475">p</text></g>
<g id="n696"><circle cx="367" cy="480"/><text x="367" y="482">p</text></g>
<g id="n697"><circle cx="336" cy="498"/><text x="336" y="500">p</text></g>
<g id="n698"><circle cx="362" cy="498"/><text x="362" y="500">p</text></g>
<g id="n699"><circle cx="370" cy="503"/><text x="370" y="505">p</text></g>
<g id="n700"><circle cx="359" cy="509"/><text x="359" y="511">p</text></g>
<g id="n701"><circle cx="346" cy="506"/><text x="346" y="508">p</text></g>
<g id="n702"><circle cx="338" cy="506"/><text x="338" y="508">p</text></g>
<g id="n703"><circle cx="322" cy="507"/><text x="322" y="509">p</text></g>
<g id="n704"><circle cx="311" cy="507"/><text x="311" y="509">p</text></g>
<g id="n705"><circle cx="300" cy="512"/><text x="300" y="514">p</text></g>
<g id="n706"><circle cx="285" cy="509"/><text x="285" y="511">p</text></g>
<g id="n707"><circle cx="276" cy="513"/><text x="276" y="515">p</text></g>
<g id="n708"><circle cx="289" cy="523"/><text x="289" y="525">p</text></g>
<g id="n709"><circle cx="301" cy="526"/><text x="301" y="528">p</text></g>
<g id="n710"><circle cx="276" cy="529"/><text x="276" y="531">p</text></g>
<g id="n711"><circle cx="319" cy="524"/><text x="319" y="526">p</text></g>
<g id="n712"><circle cx="333" cy="531"/><text x="333" y="533">p</text></g>
<g id="n713"><circle cx="314" cy="534"/><text x="314" y="536">p</text></g>
<g id="n714"><circle cx="356" cy="524"/><text x="356" y="526">p</text></g>
<g id="n715"><circle cx="354" cy="534"/><text x="354" y="536">p</text></g>
<g id="n716"><circle cx="372" cy="537"/><text x="372" y="539">p</text></g>
<g id="n717"><circle cx="305" cy="543"/><text x="305" y="545">p</text></g>
<g id="n718"><circle cx="284" cy="545"/><text x="284" y="547">p</text></g>
<g id="n719"><circle cx="261" cy="545"/><text x="261" y="547">p</text></g>
<g id="n720"><circle cx="266" cy="556"/><text x="266" y="558">p</text></g>
<g id="n721"><circle cx="273" cy="564"/><text x="273" y="566">p</text></g>
<g id="n722"><circle cx="291" cy="557"/><text x="291" y="559">p</text></g>
<g id="n723"><circle cx="316" cy="552"/><text x="316" y="554">p</text></g>
<g id="n724"><circle cx="328" cy="547"/><text x="328" y="549">p</text></g>
<g id="n725"><circle cx="339" cy="551"/><text x="339" y="553">p</text></g>
<g id="n726"><circle cx="314" cy="563"/><text x="314" y="565">p</text></g>
<g id="n727"><circle cx="300" cy="568"/><text x="300" y="570">p</text></g>
<g id="n728"><circle cx="326" cy="564"/><text x="326" y="566">p</text></g>
<g id="n729"><circle cx="360" cy="559"/><text x="360" y="561">p</text></g>
<g id="n730"><circle cx="368" cy="545"/><text x="368" y="547">p</text></g>
<g id="n731"><circle cx="370" cy="562"/><text x="370" y="564">p</text></g>
<g id="n732"><circle cx="351" cy="570"/><text x="351" y="572">p</text></g>
<g id="n733"><circle cx="230" cy="558"/><text x="230" y="560">p</text></g>
<g id="n734"><circle cx="250" cy="567"/><text x="250" y="569">p</text></g>
<g id="n735"><circle cx="210" cy="583"/><text x="210" y="585">p</text></g>
<g id="n736"><circle cx="230" cy="583"/><text x="230" y="585">p</text></g>
<g id="n737"><circle cx="224" cy="602"/><text x="224" y="604">p</text></g>
<g id="n738"><circle cx="280" cy="591"/><text x="280" y="593">p</text></g>
<g id="n739"><circle cx="311" cy="588"/><text x="311" y="590">p</text></g>
<g id="n740"><circle cx="327" cy="588"/><text x="327" y="590">p</text></g>
<g id="n741"><circle cx="343" cy="583"/><text x="343" y="585">p</text></g>
<g id="n742"><circle cx="356" cy="583"/><text x="356" y="585">p</text></g>
<g id="n743"><circle cx="368" cy="583"/><text x="368" y="585">p</text></g>
<g id="n744"><circle cx="271" cy="598"/><text x="271" y="600">p</text></g>
<g id="n745"><circle cx="316" cy="598"/><text x="316" y="600">p</text></g>
<g id="n746"><circle cx="335" cy="599"/><text x="335" y="601">p</text></g>
<g id="n747"><circle cx="350" cy="595"/><text x="350" y="597">p</text></g>
<g id="n748"><circle cx="293" cy="604"/><text x="293" y="606">p</text></g>
<g id="n749"><circle cx="266" cy="609"/><text x="266" y="611">p</text></g>
<g id="n750"><circle cx="275" cy="617"/><text x="275" y="619">p</text></g>
<g id="n751"><circle cx="275" cy="628"/><text x="275" y="630">p</text></g>
<g id="n752"><circle cx="291" cy="618"/><text x="291" y="620">p</text></g>
<g id="n753"><circle cx="319" cy="611"/><text x="319" y="613">p</text></g>
<g id="n754"><circle cx="351" cy="614"/><text x="351" y="616">p</text></g>
<g id="n755"><circle cx="363" cy="609"/><text x="363" y="611">p</text></g>
<g id="n756"><circle cx="372" cy="611"/><text x="372" y="613">p</text></g>
<g id="n757"><circle cx="369" cy="623"/><text x="369" y="625">p</text></g>
<g id="n758"><circle cx="338" cy="628"/><text x="338" y="630">p</text></g>
<g id="n759"><circle cx="347" cy="632"/><text x="347" y="634">p</text></g>
<g id="n760"><circle cx="320" cy="627"/><text x="320" y="629">p</text></g>
<g id="n761"><circle cx="303" cy="636"/><text x="303" y="638">p</text></g>
<g id="n762"><circle cx="319" cy="641"/><text x="319" y="643">p</text></g>
<g id="n763"><circle cx="356" cy="650"/><text x="356" y="652">p</text></g>
<g id="n764"><circle cx="371" cy="653"/><text x="371" y="655">p</text></g>
<g id="n765"><circle cx="372" cy="668"/><text x="372" y="670">p</text></g>
<g id="n766"><circle cx="363" cy="678"/><text x="363" y="680">p</text></g>
<g id="n767"><circle cx="351" cy="671"/><text x="351" y="673">p</text></g>
<g id="n768"><circle cx="343" cy="660"/><text x="343" y="662">p</text></g>
<g id="n769"><circle cx="293" cy="658"/><text x="293" y="660">p</text></g>
<g id="n770"><circle cx="315" cy="658"/><text x="315" y="660">p</text></g>
<g id="n771"><circle cx="293" cy="671"/><text x="293" y="673">p</text></g>
<g id="n772"><circle cx="314" cy="673"/><text x="314" y="675">p</text></g>
<g id="n773"><circle cx="327" cy="684"/><text x="327" y="686">p</text></g>
<g id="n774"><circle cx="309" cy="687"/><text x="309" y="689">p</text></g>
<g id="n775"><circle cx="376" cy="493"/><text x="376" y="495">p</text></g>
<g id="n776"><circle cx="388" cy="489"/><text x="388" y="491">p</text></g>
<g id="n777"><circle cx="394" cy="462"/><text x="394" y="464">p</text></g>
<g id="n778"><circle cx="402" cy="467"/><text x="402" y="469">p</text></g>
<g id="n779"><circle cx="412" cy="463"/><text x="412" y="465">p</text></g>
<g id="n780"><circle cx="415" cy="476"/><text x="415" y="478">p</text></g>
<g id="n781"><circle cx="429" cy="467"/><text x="429" y="469">p</text></g>
<g id="n782"><circle cx="437" cy="465"/><text x="437" y="467">p</text></g>
<g id="n783"><circle cx="410" cy="494"/><text x="410" y="496">p</text></g>
<g id="n784"><circle cx="411" cy="504"/><text x="411" y="506">p</text></g>
<g id="n785"><circle cx="426" cy="498"/><text x="426" y="500">p</text></g>
<g id="n786"><circle cx="394" cy="506"/><text x="394" y="508">p</text></g>
<g id="n787"><circle cx="401" cy="509"/><text x="401" y="511">p</text></g>
<g id="n788"><circle cx="424" cy="511"/><text x="424" y="513">p</text></g>
<g id="n789"><circle cx="440" cy="511"/><text x="440" y="513">p</text></g>
<g id="n790"><circle cx="452" cy="493"/><text x="452" y="495">p</text></g>
<g id="n791"><circle cx="455" cy="503"/><text x="455" y="505">p</text></g>
<g id="n792"><circle cx="465" cy="506"/><text x="465" y="508">p</text></g>
<g id="n793"><circle cx="411" cy="525"/><text x="411" y="527">p</text></g>
<g id="n794"><circle cx="385" cy="535"/><text x="385" y="537">p</text></g>
<g id="n795"><circle cx="395" cy="540"/><text x="395" y="542">p</text></g>
<g id="n796"><circle cx="409" cy="540"/><text x="409" y="542">p</text></g>
<g id="n797"><circle cx="418" cy="535"/><text x="418" y="537">p</text></g>
<g id="n798"><circle cx="442" cy="529"/><text x="442" y="531">p</text></g>
<g id="n799"><circle cx="452" cy="531"/><text x="452" y="533">p</text></g>
<g id="n800"><circle cx="473" cy="531"/><text x="473" y="533">p</text></g>
<g id="n801"><circle cx="482" cy="529"/><text x="482" y="531">p</text></g>
<g id="n802"><circle cx="431" cy="543"/><text x="431" y="545">p</text></g>
<g id="n803"><circle cx="451" cy="548"/><text x="451" y="550">p</text></g>
<g id="n804"><circle cx="460" cy="551"/><text x="460" y="553">p</text></g>
<g id="n805"><circle cx="416" cy="551"/><text x="416" y="553">p</text></g>
<g id="n806"><circle cx="385" cy="545"/><text x="385" y="547">p</text></g>
<g id="n807"><circle cx="377" cy="550"/><text x="377" y="552">p</text></g>
<g id="n808"><circle cx="397" cy="556"/><text x="397" y="558">p</text></g>
<g id="n809"><circle cx="416" cy="557"/><text x="416" y="559">p</text></g>
<g id="n810"><circle cx="427" cy="556"/><text x="427" y="558">p</text></g>
<g id="n811"><circle cx="442" cy="564"/><text x="442" y="566">p</text></g>
<g id="n812"><circle cx="460" cy="570"/><text x="460" y="572">p</text></g>
<g id="n813"><circle cx="474" cy="569"/><text x="474" y="571">p</text></g>
<g id="n814"><circle cx="482" cy="551"/><text x="482" y="553">p</text></g>
<g id="n815"><circle cx="497" cy="551"/><text x="497" y="553">p</text></g>
<g id="n816"><circle cx="506" cy="563"/><text x="506" y="565">p</text></g>
<g id="n817"><circle cx="491" cy="568"/><text x="491" y="570">p</text></g>
<g id="n818"><circle cx="500" cy="577"/><text x="500" y="579">p</text></g>
<g id="n819"><circle cx="484" cy="583"/><text x="484" y="585">p</text></g>
<g id="n820"><circle cx="477" cy="594"/><text x="477" y="596">p</text></g>
<g id="n821"><circle cx="437" cy="572"/><text x="437" y="574">p</text></g>
<g id="n822"><circle cx="407" cy="568"/><text x="407" y="570">p</text></g>
<g id="n823"><circle cx="415" cy="577"/><text x="415" y="579">p</text></g>
<g id="n824"><circle cx="400" cy="577"/><text x="400" y="579">p</text></g>
<g id="n825"><circle cx="389" cy="579"/><text x="389" y="581">p</text></g>
<g id="n826"><circle cx="382" cy="587"/><text x="382" y="589">p</text></g>
<g id="n827"><circle cx="391" cy="595"/><text x="391" y="597">p</text></g>
<g id="n828"><circle cx="385" cy="601"/><text x="385" y="603">p</text></g>
<g id="n829"><circle cx="409" cy="595"/><text x="409" y="597">p</text></g>
<g id="n830"><circle cx="415" cy="589"/><text x="415" y="591">p</text></g>
<g id="n831"><circle cx="431" cy="593"/><text x="431" y="595">p</text></g>
<g id="n832"><circle cx="421" cy="612"/><text x="421" y="614">p</text></g>
<g id="n833"><circle cx="437" cy="611"/><text x="437" y="613">p</text></g>
<g id="n834"><circle cx="448" cy="612"/><text x="448" y="614">p</text></g>
<g id="n835"><circle cx="482" cy="617"/><text x="482" y="619">p</text></g>
<g id="n836"><circle cx="468" cy="609"/><text x="468" y="611">p</text></g>
<g id="n837"><circle cx="497" cy="610"/><text x="497" y="612">p</text></g>
<g id="n838"><circle cx="510" cy="609"/><text x="510" y="611">p</text></g>
<g id="n839"><circle cx="506" cy="625"/><text x="506" y="627">p</text></g>
<g id="n840"><circle cx="500" cy="637"/><text x="500" y="639">p</text></g>
<g id="n841"><circle cx="487" cy="641"/><text x="487" y="643">p</text></g>
<g id="n842"><circle cx="468" cy="626"/><text x="468" y="628">p</text></g>
<g id="n843"><circle cx="409" cy="613"/><text x="409" y="615">p</text></g>
<g id="n844"><circle cx="394" cy="618"/><text x="394" y="620">p</text></g>
<g id="n845"><circle cx="399" cy="628"/><text x="399" y="630">p</text></g>
<g id="n846"><circle cx="379" cy="625"/><text x="379" y="627">p</text></g>
<g id="n847"><circle cx="381" cy="640"/><text x="381" y="642">p</text></g>
<g id="n848"><circle cx="393" cy="648"/><text x="393" y="650">p</text></g>
<g id="n849"><circle cx="426" cy="636"/><text x="426" y="638">p</text></g>
<g id="n850"><circle cx="442" cy="640"/><text x="442" y="642">p</text></g>
<g id="n851"><circle cx="442" cy="658"/><text x="442" y="660">p</text></g>
<g id="n852"><circle cx="459" cy="650"/><text x="459" y="652">p</text></g>
<g id="n853"><circle cx="466" cy="659"/><text x="466" y="661">p</text></g>
<g id="n854"><circle cx="468" cy="671"/><text x="468" y="673">p</text></g>
<g id="n855"><circle cx="459" cy="680"/><text x="459" y="682">p</text></g>
<g id="n856"><circle cx="443" cy="682"/><text x="443" y="684">p</text></g>
<g id="n857"><circle cx="431" cy="686"/><text x="431" y="688">p</text></g>
<g id="n858"><circle cx="421" cy="678"/><text x="421" y="680">p</text></g>
<g id="n859"><circle cx="420" cy="664"/><text x="420" y="666">p</text></g>
<g id="n860"><circle cx="424" cy="654"/><text x="424" y="656">p</text></g>
<g id="n861"><circle cx="374" cy="574"/><text x="374" y="576">p</text></g>
<g id="n862"><circle cx="389" cy="564"/><text x="389" y="566">p</text></g>
</g>
</svg>
